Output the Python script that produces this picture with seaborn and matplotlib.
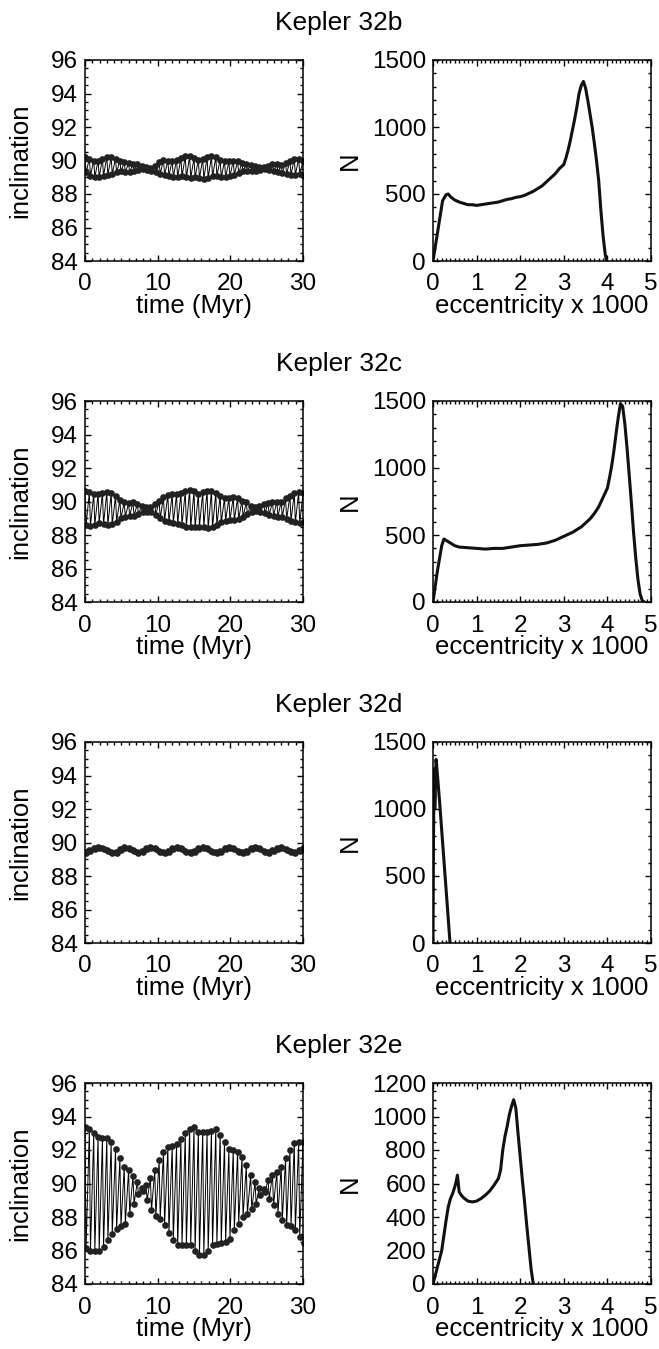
import numpy as np
import matplotlib
matplotlib.use("Agg")
import matplotlib.pyplot as plt
import seaborn as sns
from matplotlib.ticker import MultipleLocator

# ---------------- data ----------------
planets = ["Kepler 32b", "Kepler 32c", "Kepler 32d", "Kepler 32e"]

# sampling times (Myr) of the inclination output
time_grid = np.linspace(0, 30, 51)
pair_offset = 0.15  # second sample of each pair (Myr later)

b_upper = [90.2, 90.1, 90.0, 90.0, 90.1, 90.2, 90.2, 90.1, 90.0, 89.9,
           89.85, 89.8, 89.8, 89.7, 89.6, 89.55, 89.7, 89.9, 90.05, 90.0,
           90.0, 90.05, 90.15, 90.25, 90.25, 90.15, 90.05, 90.1, 90.2, 90.25,
           90.2, 90.05, 89.95, 89.95, 90.0, 89.95, 89.85, 89.8, 89.75, 89.65,
           89.6, 89.6, 89.7, 89.8, 89.8, 89.75, 89.85, 90.0, 90.1, 90.1, 89.95]
b_lower = [89.3, 89.1, 89.0, 89.0, 89.1, 89.15, 89.2, 89.3, 89.35, 89.3,
           89.3, 89.4, 89.45, 89.5, 89.45, 89.35, 89.3, 89.2, 89.15, 89.1,
           89.0, 89.0, 89.05, 89.0, 88.95, 89.0, 88.95, 88.9, 88.95, 89.05,
           89.1, 89.0, 89.0, 89.05, 89.15, 89.25, 89.35, 89.4, 89.4, 89.4,
           89.45, 89.5, 89.45, 89.35, 89.3, 89.25, 89.2, 89.15, 89.15, 89.2, 89.1]

c_upper = [90.6, 90.55, 90.45, 90.45, 90.5, 90.55, 90.5, 90.3, 90.1, 89.95,
           89.9, 89.95, 89.85, 89.75, 89.7, 89.7, 89.85, 90.05, 90.25, 90.4,
           90.45, 90.45, 90.5, 90.6, 90.7, 90.6, 90.45, 90.55, 90.65, 90.6,
           90.5, 90.35, 90.2, 90.2, 90.25, 90.2, 90.05, 89.95, 89.75, 89.7,
           89.75, 89.85, 89.9, 89.95, 90.0, 90.0, 90.2, 90.35, 90.5, 90.55, 90.5]
c_lower = [88.6, 88.55, 88.6, 88.7, 88.65, 88.6, 88.65, 88.8, 89.0, 89.1,
           89.15, 89.15, 89.25, 89.35, 89.4, 89.35, 89.2, 89.0, 88.85, 88.75,
           88.7, 88.65, 88.6, 88.5, 88.45, 88.45, 88.5, 88.5, 88.4, 88.45,
           88.6, 88.75, 88.85, 88.9, 88.9, 88.95, 89.1, 89.25, 89.35, 89.45,
           89.4, 89.3, 89.2, 89.15, 89.1, 89.05, 88.95, 88.85, 88.75, 88.7, 88.75]

d_upper = [89.45, 89.53, 89.65, 89.74, 89.7, 89.55, 89.42, 89.45, 89.61, 89.74,
           89.7, 89.55, 89.41, 89.48, 89.65, 89.74, 89.68, 89.51, 89.41, 89.49,
           89.65, 89.74, 89.67, 89.51, 89.41, 89.48, 89.65, 89.74, 89.67, 89.51,
           89.41, 89.48, 89.65, 89.74, 89.67, 89.49, 89.41, 89.51, 89.67, 89.74,
           89.65, 89.49, 89.41, 89.53, 89.69, 89.74, 89.63, 89.48, 89.41, 89.53, 89.65]
d_lower = [89.39, 89.47, 89.59, 89.68, 89.64, 89.49, 89.36, 89.39, 89.55, 89.68,
           89.64, 89.49, 89.35, 89.42, 89.59, 89.68, 89.62, 89.45, 89.35, 89.43,
           89.59, 89.68, 89.61, 89.45, 89.35, 89.42, 89.59, 89.68, 89.61, 89.45,
           89.35, 89.42, 89.59, 89.68, 89.61, 89.43, 89.35, 89.45, 89.61, 89.68,
           89.59, 89.43, 89.35, 89.47, 89.63, 89.68, 89.57, 89.42, 89.35, 89.47, 89.59]

e_upper = [93.4, 93.25, 93.0, 92.8, 92.7, 92.7, 92.45, 92.05, 91.5, 91.0,
           90.8, 90.45, 90.1, 89.75, 89.9, 90.3, 90.8, 91.4, 91.9, 92.15,
           92.25, 92.35, 92.65, 93.0, 93.25, 93.35, 93.1, 93.1, 93.05, 93.15,
           93.25, 92.9, 92.5, 92.05, 92.0, 91.9, 91.6, 91.1, 90.5, 90.1,
           89.75, 89.7, 90.2, 90.5, 90.7, 91.0, 91.5, 92.0, 92.4, 92.5, 92.5]
e_lower = [86.15, 85.95, 85.95, 85.95, 86.2, 86.6, 87.0, 87.3, 87.45, 87.6,
           88.2, 88.8, 89.4, 89.55, 89.0, 88.4, 88.05, 87.9, 87.5, 87.05,
           86.6, 86.3, 86.3, 86.3, 86.3, 85.95, 85.75, 85.75, 85.95, 86.3,
           86.4, 86.45, 86.5, 86.7, 87.25, 87.6, 88.0, 88.2, 88.45, 88.8,
           89.3, 89.5, 89.1, 88.7, 88.2, 87.8, 87.5, 87.45, 87.2, 86.8, 86.45]

# eccentricity distributions (eccentricity x 1000, N)
b_ecc = [0, 0.22, 0.3, 0.35, 0.4, 0.5, 0.6, 0.7, 0.8, 0.9, 1.0, 1.1, 1.2, 1.3, 1.4,
         1.5, 1.6, 1.7, 1.8, 1.9, 2.0, 2.1, 2.2, 2.3, 2.4, 2.5, 2.6, 2.7, 2.8, 2.9,
         3.0, 3.05, 3.1, 3.15, 3.2, 3.25, 3.3, 3.35, 3.4, 3.45, 3.5, 3.55, 3.6, 3.65,
         3.7, 3.75, 3.8, 3.85, 3.9, 3.95, 3.98]
b_N = [0, 450, 495, 500, 480, 455, 440, 430, 420, 420, 415, 420, 425, 430, 435,
       440, 450, 460, 465, 475, 480, 490, 505, 520, 540, 560, 590, 620, 650, 690,
       720, 770, 830, 900, 980, 1060, 1150, 1250, 1310, 1340, 1290, 1200, 1100, 1000,
       880, 750, 600, 380, 190, 50, 0]

c_ecc = [0, 0.1, 0.2, 0.25, 0.3, 0.4, 0.5, 0.6, 0.8, 1.0, 1.2, 1.4, 1.6, 1.8, 2.0,
         2.2, 2.4, 2.6, 2.8, 3.0, 3.2, 3.4, 3.5, 3.6, 3.7, 3.8, 3.9, 4.0, 4.05, 4.1,
         4.15, 4.2, 4.25, 4.3, 4.35, 4.4, 4.45, 4.5, 4.55, 4.6, 4.65, 4.7, 4.75, 4.8, 4.85]
c_N = [0, 230, 420, 470, 460, 440, 420, 410, 405, 400, 395, 400, 400, 410, 420,
       425, 430, 440, 460, 490, 520, 560, 590, 620, 660, 710, 780, 850, 930, 1020,
       1130, 1260, 1380, 1480, 1460, 1330, 1150, 950, 740, 520, 330, 170, 60, 10, 0]

d_ecc = [0, 0.01, 0.02, 0.03, 0.04, 0.05, 0.06, 0.07, 0.08, 0.1, 0.15, 0.2, 0.25,
         0.3, 0.35, 0.39]
d_N = [0, 700, 1150, 1300, 1000, 1100, 1250, 1370, 1340, 1260, 1060, 840, 620,
       400, 180, 0]

e_ecc = [0, 0.1, 0.2, 0.3, 0.35, 0.4, 0.45, 0.5, 0.53, 0.56, 0.6, 0.65, 0.7, 0.8,
         0.9, 1.0, 1.1, 1.2, 1.3, 1.4, 1.5, 1.55, 1.6, 1.65, 1.7, 1.75, 1.8, 1.85,
         1.9, 1.95, 2.0, 2.05, 2.1, 2.15, 2.2, 2.25, 2.3]
e_N = [0, 100, 200, 380, 460, 510, 540, 580, 610, 650, 550, 530, 515, 495, 490,
       495, 510, 530, 555, 590, 630, 680, 800, 880, 940, 1010, 1060, 1100, 1050, 900,
       760, 620, 490, 350, 220, 90, 0]

incl_ticks = [84, 86, 88, 90, 92, 94, 96]
time_ticks = [0, 10, 20, 30]
ecc_ticks = [0, 1, 2, 3, 4, 5]
N_ticks_std = [0, 500, 1000, 1500]
N_ticks_e = [0, 200, 400, 600, 800, 1000, 1200]

uppers = [b_upper, c_upper, d_upper, e_upper]
lowers = [b_lower, c_lower, d_lower, e_lower]
eccs = [b_ecc, c_ecc, d_ecc, e_ecc]
Ns = [b_N, c_N, d_N, e_N]
N_ticks = [N_ticks_std, N_ticks_std, N_ticks_std, N_ticks_e]

# ---------------- style ----------------
sns.set_theme(style="ticks")
plt.rcParams["font.family"] = ["Liberation Sans", "DejaVu Sans"]
plt.rcParams["axes.edgecolor"] = "black"
plt.rcParams["axes.linewidth"] = 1.1
plt.rcParams["text.color"] = "black"
plt.rcParams["axes.labelcolor"] = "black"

FS_TICK = 17.5
FS_LAB = 18.5
FS_TITLE = 19

W, H = 659, 1349
fig = plt.figure(figsize=(W / 100, H / 100), dpi=100)


def add_ax(left, top, w=218, h=201):
    return fig.add_axes([left / W, 1 - (top + h) / H, w / W, h / H])


def style(ax, xminor, yminor):
    ax.xaxis.set_minor_locator(MultipleLocator(xminor))
    ax.yaxis.set_minor_locator(MultipleLocator(yminor))
    ax.tick_params(which="both", direction="in", top=True, right=True,
                   colors="black", width=1.0)
    ax.tick_params(which="major", length=4.5)
    ax.tick_params(which="minor", length=2.2)
    ax.tick_params(axis="x", which="major", pad=9, labelsize=FS_TICK)
    ax.tick_params(axis="y", which="major", pad=5, labelsize=FS_TICK)
    for s in ax.spines.values():
        s.set_visible(True)
        s.set_color("black")
        s.set_linewidth(1.1)


row_tops = [60, 401, 742, 1083]
for i, name in enumerate(planets):
    top = row_tops[i]
    # title
    fig.text(339 / W, 1 - (top - 37) / H, name, ha="center", va="center",
             fontsize=FS_TITLE)

    # ---- left: inclination vs time ----
    axl = add_ax(85, top)
    t = np.empty(2 * len(time_grid))
    inc = np.empty(2 * len(time_grid))
    t[0::2] = time_grid
    t[1::2] = time_grid + pair_offset
    inc[0::2] = uppers[i]
    inc[1::2] = lowers[i]
    sns.lineplot(x=t, y=inc, sort=False, estimator=None, ax=axl, color="black",
                 lw=0.7, marker="o", markersize=4.8, markeredgewidth=0,
                 markerfacecolor="#222222")
    axl.set_xlim(0, 30)
    axl.set_ylim(84, 96)
    axl.set_xticks(time_ticks)
    axl.set_yticks(incl_ticks)
    style(axl, 1, 0.5)
    axl.set_xlabel("time (Myr)", fontsize=FS_LAB)
    axl.set_ylabel("inclination", fontsize=FS_LAB)
    axl.xaxis.set_label_coords(0.5, -0.165)
    axl.yaxis.set_label_coords(-0.243, 0.5)

    # ---- right: eccentricity histogram ----
    axr = add_ax(433, top)
    sns.lineplot(x=eccs[i], y=Ns[i], sort=False, estimator=None, ax=axr,
                 color="#111111", lw=2.2)
    axr.set_xlim(0, 5)
    axr.set_ylim(N_ticks[i][0], N_ticks[i][-1])
    axr.set_xticks(ecc_ticks)
    axr.set_yticks(N_ticks[i])
    style(axr, 0.1, 100 if i < 3 else 50)
    axr.set_xlabel("eccentricity x 1000", fontsize=FS_LAB)
    axr.set_ylabel("N", fontsize=FS_LAB)
    axr.xaxis.set_label_coords(0.5, -0.165)
    axr.yaxis.set_label_coords(-0.326, 0.5)

fig.savefig("out.png", dpi=100, facecolor="white")
